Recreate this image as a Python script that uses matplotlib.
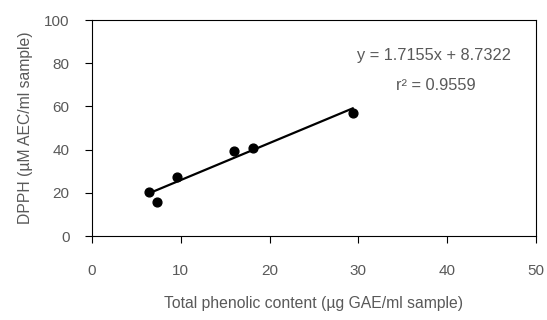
import matplotlib
matplotlib.use("Agg")
import matplotlib.pyplot as plt
import numpy as np

plt.rcParams['font.family'] = ['Liberation Sans', 'DejaVu Sans']

tpc = [6.45, 7.28, 9.57, 15.96, 18.17, 29.36]
dpph = [20.5, 15.6, 27.3, 39.2, 40.6, 57.1]
slope = 1.7155
intercept = 8.7322
r2 = 0.9559

gray = '#595959'
fig = plt.figure(figsize=(5.47, 3.2), dpi=100)
ax = fig.add_axes([0.168, 0.2625, 0.812, 0.675])

ax.scatter(tpc, dpph, s=40, color='black', zorder=3)
xs = np.array([min(tpc), max(tpc)])
ax.plot(xs, slope * xs + intercept, color='black', lw=1.6, zorder=2)

ax.set_xlim(0, 50)
ax.set_ylim(0, 100)
ax.set_xticks(range(0, 51, 10))
ax.set_yticks(range(0, 101, 20))
ax.tick_params(axis='x', direction='out', length=5, width=0.8, pad=15, labelsize=11, labelcolor=gray)
ax.tick_params(axis='y', direction='out', length=5, width=0.8, pad=11, labelsize=11, labelcolor=gray)
for s in ax.spines.values():
    s.set_linewidth(0.8)

ax.set_xlabel('Total phenolic content (µg GAE/ml sample)', fontsize=11.3, color=gray, labelpad=13)
ax.set_ylabel('DPPH (µM AEC/ml sample)', fontsize=11.3, color=gray, labelpad=8)

ax.text(0.77, 0.835, f'y = {slope}x + {intercept}', transform=ax.transAxes,
        ha='center', va='center', fontsize=11.8, color=gray)
ax.text(0.775, 0.695, f'r² = {r2}', transform=ax.transAxes,
        ha='center', va='center', fontsize=11.8, color=gray)

fig.savefig('out.png', dpi=100)
